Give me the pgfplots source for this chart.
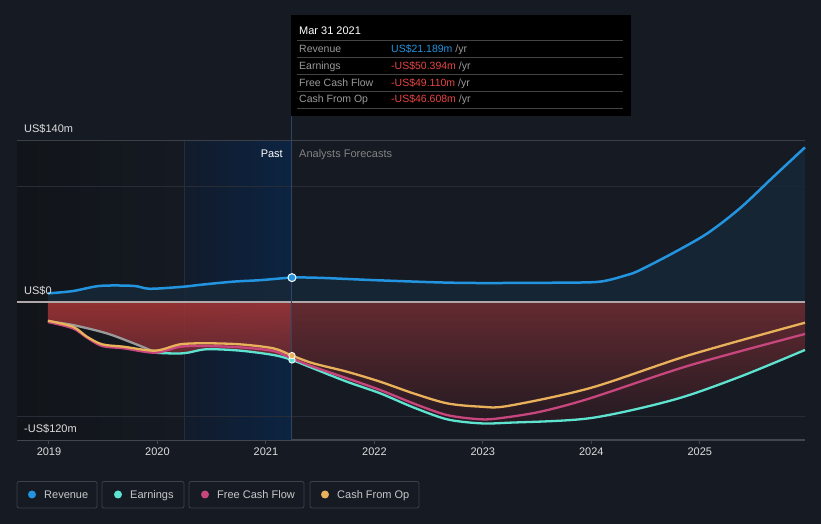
\documentclass[border=0pt]{standalone}
\usepackage{fontspec}
\setmainfont{Liberation Sans}
\usepackage{pgfplots}
\pgfplotsset{compat=1.18}
\usepackage{pgfplotstable}
\definecolor{bgc}{HTML}{151A23}
\definecolor{leftA}{HTML}{111419}
\definecolor{leftB}{HTML}{151A22}
\definecolor{bandA}{HTML}{111B2B}
\definecolor{bandB}{HTML}{0C2442}
\definecolor{gridc}{HTML}{272C36}
\definecolor{gridtop}{HTML}{3A3F49}
\definecolor{axc}{HTML}{42464F}
\definecolor{zeroc}{HTML}{B0A8A8}
\definecolor{revc}{HTML}{2394DF}
\definecolor{earnc}{HTML}{5EE3D0}
\definecolor{fcfc}{HTML}{C8467E}
\definecolor{cfoc}{HTML}{E9B15A}
\definecolor{greyl}{HTML}{9A9A9A}
\definecolor{revfill}{HTML}{172838}
\definecolor{redA}{HTML}{A83636}
\definecolor{redB}{HTML}{6E2A30}
\definecolor{redC}{HTML}{632A30}
\definecolor{redD}{HTML}{241A22}
\definecolor{labc}{HTML}{DDDDDD}
\definecolor{ttgrey}{HTML}{9A9A9A}
\definecolor{ttred}{HTML}{E84545}
\definecolor{ttsep}{HTML}{444444}
\definecolor{legb}{HTML}{3C414C}
\definecolor{legt}{HTML}{C8C8C8}
\definecolor{vline}{HTML}{2E4563}
\newcommand\fs[1]{\fontsize{#1}{#1}\selectfont}

\pgfplotstableread{
x y
2018.99 7.5
2019.22 9.5
2019.47 14
2019.78 14
2019.93 11.5
2020.24 13.3
2020.40 15
2020.70 17.7
2020.95 19
2021.24 21.2
2021.50 21
2022.00 19
2022.61 17
2023.00 16.5
2023.71 16.8
2024.08 17.7
2024.33 23.5
2024.45 27.8
2024.76 42.9
2025.07 59.7
2025.37 81.5
2025.68 109
2025.97 134.5
}\revenue

\pgfplotstableread{
x y
2018.99 -16.8
2019.22 -20
2019.53 -27.2
2019.78 -35.9
2019.93 -41.7
2019.98 -44.1
2020.24 -44.6
2020.45 -41.1
2020.76 -42.3
2021.07 -46.1
2021.24 -50.4
2021.435 -57.7
2021.746 -69.3
2022.053 -79.4
2022.358 -91.6
2022.669 -102
2022.976 -105.5
2023.23 -105
2023.99 -101
2024.76 -85
2025.37 -65
2025.97 -41.7
}\earnings

\pgfplotstableread{
x y
2018.99 -17.4
2019.22 -22.9
2019.35 -31
2019.49 -38.3
2019.69 -40.3
2019.98 -44.1
2020.21 -38.9
2020.45 -38.3
2020.76 -39.4
2021.07 -42.6
2021.24 -49.1
2021.435 -56.3
2021.746 -66.3
2022.053 -76.5
2022.358 -88.1
2022.669 -98.3
2022.976 -102
2023.16 -101
2023.53 -95.4
2023.99 -83.7
2024.91 -55
2025.97 -27.8
}\fcf

\pgfplotstableread{
x y
2018.99 -16.3
2019.22 -21.5
2019.35 -30.2
2019.49 -36.8
2019.69 -38.9
2019.98 -42.3
2020.21 -36.8
2020.45 -35.9
2020.76 -36.8
2021.07 -40.3
2021.24 -46.6
2021.435 -53.3
2021.746 -60.6
2022.053 -69.3
2022.358 -79.4
2022.669 -88.1
2022.976 -91
2023.23 -90.4
2023.99 -74.8
2024.91 -46
2025.97 -18
}\cfo

\begin{document}
\begin{tikzpicture}[x=1pt,y=1pt]
\fill[bgc] (0,0) rectangle (821,524);

\begin{axis}[at={(17pt,84pt)}, anchor=south west, width=788pt, height=299pt,
  scale only axis, xmin=2018.705, xmax=2025.97, ymin=-120, ymax=140, clip=false,
  axis x line*=bottom, axis y line=none,
  xtick={2019,2020,2021,2022,2023,2024,2025},
  xticklabels={2019,2020,2021,2022,2023,2024,2025},
  ytick=\empty, tick align=outside, major tick length=4pt,
  x axis line style={draw=axc, line width=1.2pt},
  xtick style={draw=axc, line width=1pt},
  xticklabel style={font=\fs{11}, text=labc, inner sep=0pt, yshift=-4pt},
]
% backgrounds
\path[left color=leftA, right color=leftB] (axis cs:2018.705,-120) rectangle (axis cs:2020.25,140);
\path[left color=bandA, right color=bandB] (axis cs:2020.25,-120) rectangle (axis cs:2021.24,140);
\draw[gridc, line width=0.6pt] (axis cs:2020.25,-120) -- (axis cs:2020.25,140);
% grid
\draw[gridtop, line width=1pt] (axis cs:2018.705,140) -- (axis cs:2025.97,140);
\draw[gridc, line width=1pt] (axis cs:2018.705,100) -- (axis cs:2025.97,100);
\draw[gridc, line width=1pt] (axis cs:2018.705,-100) -- (axis cs:2025.97,-100);
% revenue fill
\addplot[draw=none, fill=revfill, fill opacity=0.85, smooth] table[x=x,y=y] {\revenue} \closedcycle;
% negative fills
\addplot[draw=none, top color=redA, bottom color=redB, fill opacity=0.85, smooth,
  restrict x to domain=2018:2021.24] table[x=x,y=y] {\earnings} \closedcycle;
\addplot[draw=none, top color=redC, bottom color=redD, smooth,
  restrict x to domain=2021.24:2026] table[x=x,y=y] {\earnings} \closedcycle;
% zero line
\draw[zeroc, line width=1.8pt] (axis cs:2018.705,0) -- (axis cs:2025.97,0);
% vertical marker line
\draw[vline, line width=1pt] (axis cs:2021.24,-120) -- (axis cs:2021.24,161.7);
% lines
\addplot[greyl, line width=2.3pt, smooth, restrict x to domain=2018:2019.98] table[x=x,y=y] {\earnings};
\addplot[earnc, line width=2.3pt, smooth, restrict x to domain=2019.93:2026] table[x=x,y=y] {\earnings};
\addplot[fcfc, line width=2.3pt, smooth] table[x=x,y=y] {\fcf};
\addplot[cfoc, line width=2.3pt, smooth] table[x=x,y=y] {\cfo};
\addplot[revc, line width=2.5pt, smooth] table[x=x,y=y] {\revenue};
% markers
\addplot[only marks, mark=*, mark size=3.2pt, mark options={fill=earnc, draw=white, line width=0.8pt}] coordinates {(2021.24,-50.4)};
\addplot[only marks, mark=*, mark size=3.2pt, mark options={fill=cfoc, draw=white, line width=0.8pt}] coordinates {(2021.24,-46.6)};
\addplot[only marks, mark=*, mark size=4pt, mark options={fill=revc, draw=white, line width=1pt}] coordinates {(2021.24,21.2)};
\end{axis}

% axis value labels
\node[anchor=base west, inner sep=0pt, text=labc, font=\fs{11}] at (24,391) {US\$140m};
\node[anchor=base west, inner sep=0pt, text=labc, font=\fs{11}] at (24,229) {US\$0};
\node[anchor=base west, inner sep=0pt, text=labc, font=\fs{11}] at (24,91) {-US\$120m};
\node[anchor=base east, inner sep=0pt, text=white, font=\fs{11}] at (283,366.7) {Past};
\node[anchor=base west, inner sep=0pt, text=ttgrey!85!black, font=\fs{11}] at (299,366.7) {Analysts Forecasts};

% tooltip
\fill[black] (291,509) rectangle (631,408);
\node[anchor=base west, inner sep=0pt, text=white, font=\fs{11}] at (299,489) {Mar 31 2021};
\foreach \yy in {483.7,466.7,449.7,433,416} {\draw[ttsep, line width=0.8pt] (297,\yy) -- (623,\yy);}
\node[anchor=base west, inner sep=0pt, text=ttgrey, font=\fs{10.5}] at (299,471.7) {Revenue};
\node[anchor=base west, inner sep=0pt, text=ttgrey, font=\fs{10.5}] at (299,454.7) {Earnings};
\node[anchor=base west, inner sep=0pt, text=ttgrey, font=\fs{10.5}] at (299,437.7) {Free Cash Flow};
\node[anchor=base west, inner sep=0pt, text=ttgrey, font=\fs{10.5}] at (299,421) {Cash From Op};
\node[anchor=base west, inner sep=0pt, font=\fs{10.5}] at (391,471.7) {\color{revc}US\$21.189m \color{ttgrey}/yr};
\node[anchor=base west, inner sep=0pt, font=\fs{10.5}] at (391,454.7) {\color{ttred}-US\$50.394m \color{ttgrey}/yr};
\node[anchor=base west, inner sep=0pt, font=\fs{10.5}] at (391,437.7) {\color{ttred}-US\$49.110m \color{ttgrey}/yr};
\node[anchor=base west, inner sep=0pt, font=\fs{10.5}] at (391,421) {\color{ttred}-US\$46.608m \color{ttgrey}/yr};

% legend
\draw[legb, line width=0.8pt, rounded corners=2pt] (17,42.5) rectangle (97,16);
\draw[legb, line width=0.8pt, rounded corners=2pt] (102,42.5) rectangle (184,16);
\draw[legb, line width=0.8pt, rounded corners=2pt] (189,42.5) rectangle (304,16);
\draw[legb, line width=0.8pt, rounded corners=2pt] (310,42.5) rectangle (419,16);
\fill[revc] (32,29.5) circle (4);
\fill[earnc] (118,29.5) circle (4);
\fill[fcfc] (205,29.5) circle (4);
\fill[cfoc] (325,29.5) circle (4);
\node[anchor=base west, inner sep=0pt, text=legt, font=\fs{11}] at (44,25.7) {Revenue};
\node[anchor=base west, inner sep=0pt, text=legt, font=\fs{11}] at (130,25.7) {Earnings};
\node[anchor=base west, inner sep=0pt, text=legt, font=\fs{11}] at (217,25.7) {Free Cash Flow};
\node[anchor=base west, inner sep=0pt, text=legt, font=\fs{11}] at (337,25.7) {Cash From Op};
\end{tikzpicture}
\end{document}
